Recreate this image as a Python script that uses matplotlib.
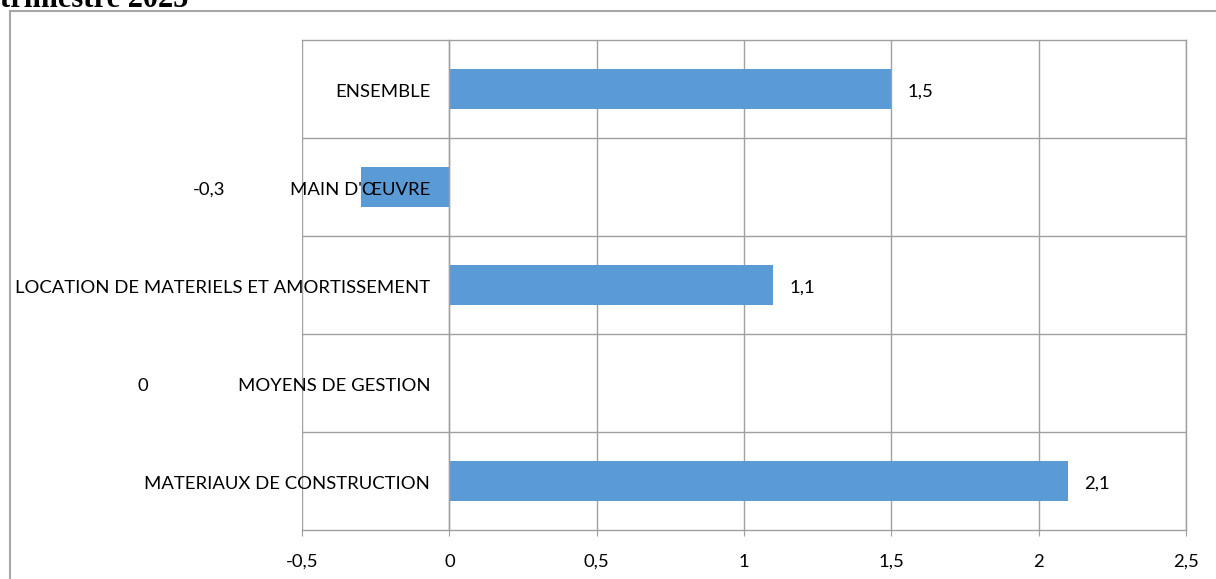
import matplotlib
matplotlib.use("Agg")
import matplotlib.pyplot as plt
from matplotlib.patches import Rectangle
import matplotlib.transforms as mtransforms

categories = ["ENSEMBLE", "MAIN D'ŒUVRE", "LOCATION DE MATERIELS ET AMORTISSEMENT",
              "MOYENS DE GESTION", "MATERIAUX DE CONSTRUCTION"]
values = [1.5, -0.3, 1.1, 0, 2.1]
value_labels = ["1,5", "-0,3", "1,1", "0", "2,1"]
xticks = [-0.5, 0, 0.5, 1, 1.5, 2, 2.5]
xtick_labels = ["-0,5", "0", "0,5", "1", "1,5", "2", "2,5"]
title = "trimestre 2025"

plt.rcParams['font.family'] = ['Lato', 'DejaVu Sans']
FS = 13.3
W, H = 1216, 579
fig = plt.figure(figsize=(W / 100, H / 100), dpi=100)

# outer frame
fig.patches.append(Rectangle((10 / W, 0 - 0.01), 1.2, 1 - 11 / H + 0.01, transform=fig.transFigure,
                             fill=False, edgecolor='#a6a6a6', linewidth=1.5, clip_on=False))
fig.text(0, 1 - 7 / H, title, fontsize=22, fontweight='bold', family='Liberation Serif',
         ha='left', va='baseline')

ax = fig.add_axes([302 / W, 1 - 530 / H, (1186 - 302) / W, (530 - 40) / H])
n = len(categories)
ypos = list(range(n))[::-1]
grey = '#a0a0a0'
ax.barh(ypos, values, height=0.4, color='#5B9BD5', zorder=3)
ax.set_xlim(-0.5, 2.5)
ax.set_ylim(-0.5, n - 0.5)
ax.set_xticks(xticks)
ax.set_xticklabels(xtick_labels, fontsize=FS)
ax.set_yticks(ypos)
ax.set_yticklabels([])
ax.set_yticks([i + 0.5 for i in range(n - 1)], minor=True)
ax.grid(True, axis='x', which='major', color=grey, linewidth=1, zorder=0)
ax.grid(True, axis='y', which='minor', color=grey, linewidth=1, zorder=0)
ax.tick_params(axis='y', which='both', length=0)
ax.tick_params(axis='x', length=4, color=grey, pad=13)
ax.spines['left'].set_position(('data', 0))
for s in ax.spines.values():
    s.set_color(grey)
    s.set_linewidth(1)
ax.spines['left'].set_zorder(4)

trans = ax.transData
off = mtransforms.ScaledTranslation(-19 / 100, -3 / 100, fig.dpi_scale_trans)
for y, cat in zip(ypos, categories):
    ax.text(0, y, cat, transform=trans + off, ha='right', va='center', fontsize=FS, zorder=5)

for y, v, lab in zip(ypos, values, value_labels):
    if v > 0:
        xt = 11.5
    elif v < 0:
        xt = -109
    else:
        xt = -221
    ax.annotate(lab, (v, y), xytext=(xt, -2), textcoords='offset points',
                ha='left' if v > 0 else 'center', va='center', fontsize=FS,
                annotation_clip=False)

fig.savefig("out.png", dpi=100)
